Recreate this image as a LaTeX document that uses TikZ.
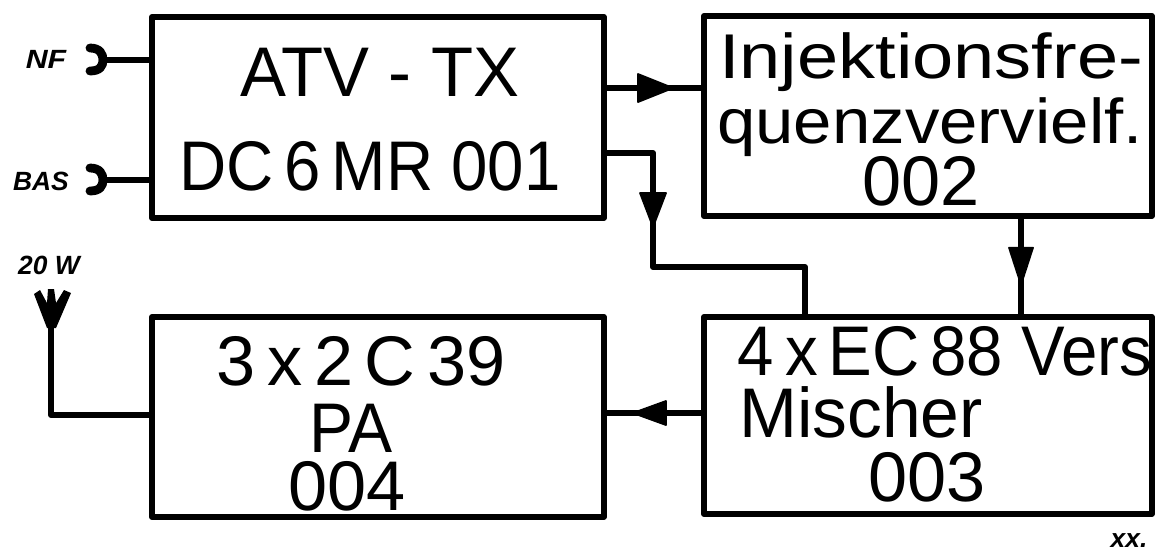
\documentclass[tikz,border=0pt]{standalone}
\usepackage{fontspec}
\setmainfont{Liberation Sans}
\usetikzlibrary{calc,arrows.meta,decorations.markings}
\newcommand{\wide}[2]{\scalebox{#1}[1]{#2}}
\tikzset{
    blockbox/.style={draw, line width=3.4pt, line join=round, anchor=north west, inner sep=0pt, outer sep=0pt},
    wire/.style={line width=3.4pt, line join=round},
    jack/.style={line width=5pt, line cap=round},
    blocktext/.style={inner sep=0pt, anchor=base, font=\fontsize{40}{40}\selectfont},
    injtext/.style={blocktext, font=\fontsize{36}{36}\selectfont},
    smalltext/.style={inner sep=0pt, font=\fontsize{15}{15}\selectfont\bfseries\itshape},
    arrow at/.style n args={3}{
        postaction=decorate,
        decoration={markings, mark=at position #1 with {\filldraw[line width=1pt, line join=round] (-#2,-#3) -- (0,0) -- (-#2,#3) -- cycle;}}
    }
}
\begin{document}
\begin{tikzpicture}[x=0.02cm,y=-0.02cm]
    \useasboundingbox (0,0) rectangle (1158,551);
    % blocks
    \node[blockbox, minimum width=9.04cm, minimum height=4.02cm] (atv) at (152,17) {};
    \node[blockbox, minimum width=8.96cm, minimum height=4cm] (inj) at (704,16) {};
    \node[blockbox, minimum width=8.96cm, minimum height=3.94cm] (mix) at (704,317) {};
    \node[blockbox, minimum width=9.04cm, minimum height=4cm] (pa) at (152,317) {};
    % block texts
    \node[blocktext] (atvname) at (380,96) {\wide{0.98}{ATV - TX}};
    \node[blocktext] (atvnum) at (370,190) {\wide{0.93}{DC\,6\,MR 001}};
    \node[injtext] (injone) at (931,78) {\wide{1.17}{Injektionsfre-}};
    \node[injtext] (injtwo) at (930,143) {\wide{1.09}{quenzvervielf.}};
    \node[blocktext] (injnum) at (921,205) {002};
    \node[blocktext] (mixone) at (945,375) {\wide{0.93}{4\,x\,EC\,88 Vers}};
    \node[blocktext] (mixtwo) at (861,437) {\wide{0.99}{Mischer}};
    \node[blocktext] (mixnum) at (927,501) {003};
    \node[blocktext] (paone) at (361,385) {3\,x\,2\,C\,39};
    \node[blocktext] (patwo) at (351,452) {\wide{0.94}{PA}};
    \node[blocktext] (panum) at (347,510) {004};
    % small labels
    \node[smalltext] (nf) at (46,59) {\wide{1.15}{NF}};
    \node[smalltext] (bas) at (41,181) {BAS};
    \node[smalltext] (watt) at (49,265) {20 W};
    \node[smalltext] (mark) at (1129,541) {xx.};
    % inputs
    \coordinate (nfend) at (103,60);
    \coordinate (basend) at (103,180);
    \draw[wire] (nfend) -- (nfend -| atv.west);
    \draw[wire] (basend) -- (basend -| atv.west);
    \foreach \jackend in {nfend,basend} {
        \draw[jack] ($(\jackend)+(-13,-12)$) .. controls ($(\jackend)+(-3,-12)$) and ($(\jackend)+(0,-6)$) .. (\jackend)
            .. controls ($(\jackend)+(0,6)$) and ($(\jackend)+(-3,11)$) .. ($(\jackend)+(-13,11)$);
    }
    % connections
    \coordinate (atvout) at (604,88);
    \coordinate (atvmix) at (604,153);
    \coordinate (injout) at (1021,216);
    \coordinate (mixin) at (805,317);
    \coordinate (mixout) at (704,413);
    \draw[wire, arrow at={0.69}{35}{14}] (atvout) -- (atvout -| inj.west);
    \draw[wire, arrow at={0.337}{34}{13}] (atvmix) -| (653,267) -| (mixin);
    \draw[wire, arrow at={0.68}{37}{12}] (injout) -- (injout |- mix.north);
    \draw[wire, arrow at={0.71}{33}{12}] (mixout) -- (mixout -| pa.east);
    % antenna
    \coordinate (antbase) at (51,328);
    \coordinate (paant) at (152,415);
    \draw[wire] (paant) -| (antbase);
    \fill (47,328) -- (34,294) -- (40,290) -- (47,303) -- (48,289) -- (54,289) -- (56,303) -- (64,290) -- (71,293) -- (56,328) -- cycle;
\end{tikzpicture}
\end{document}
